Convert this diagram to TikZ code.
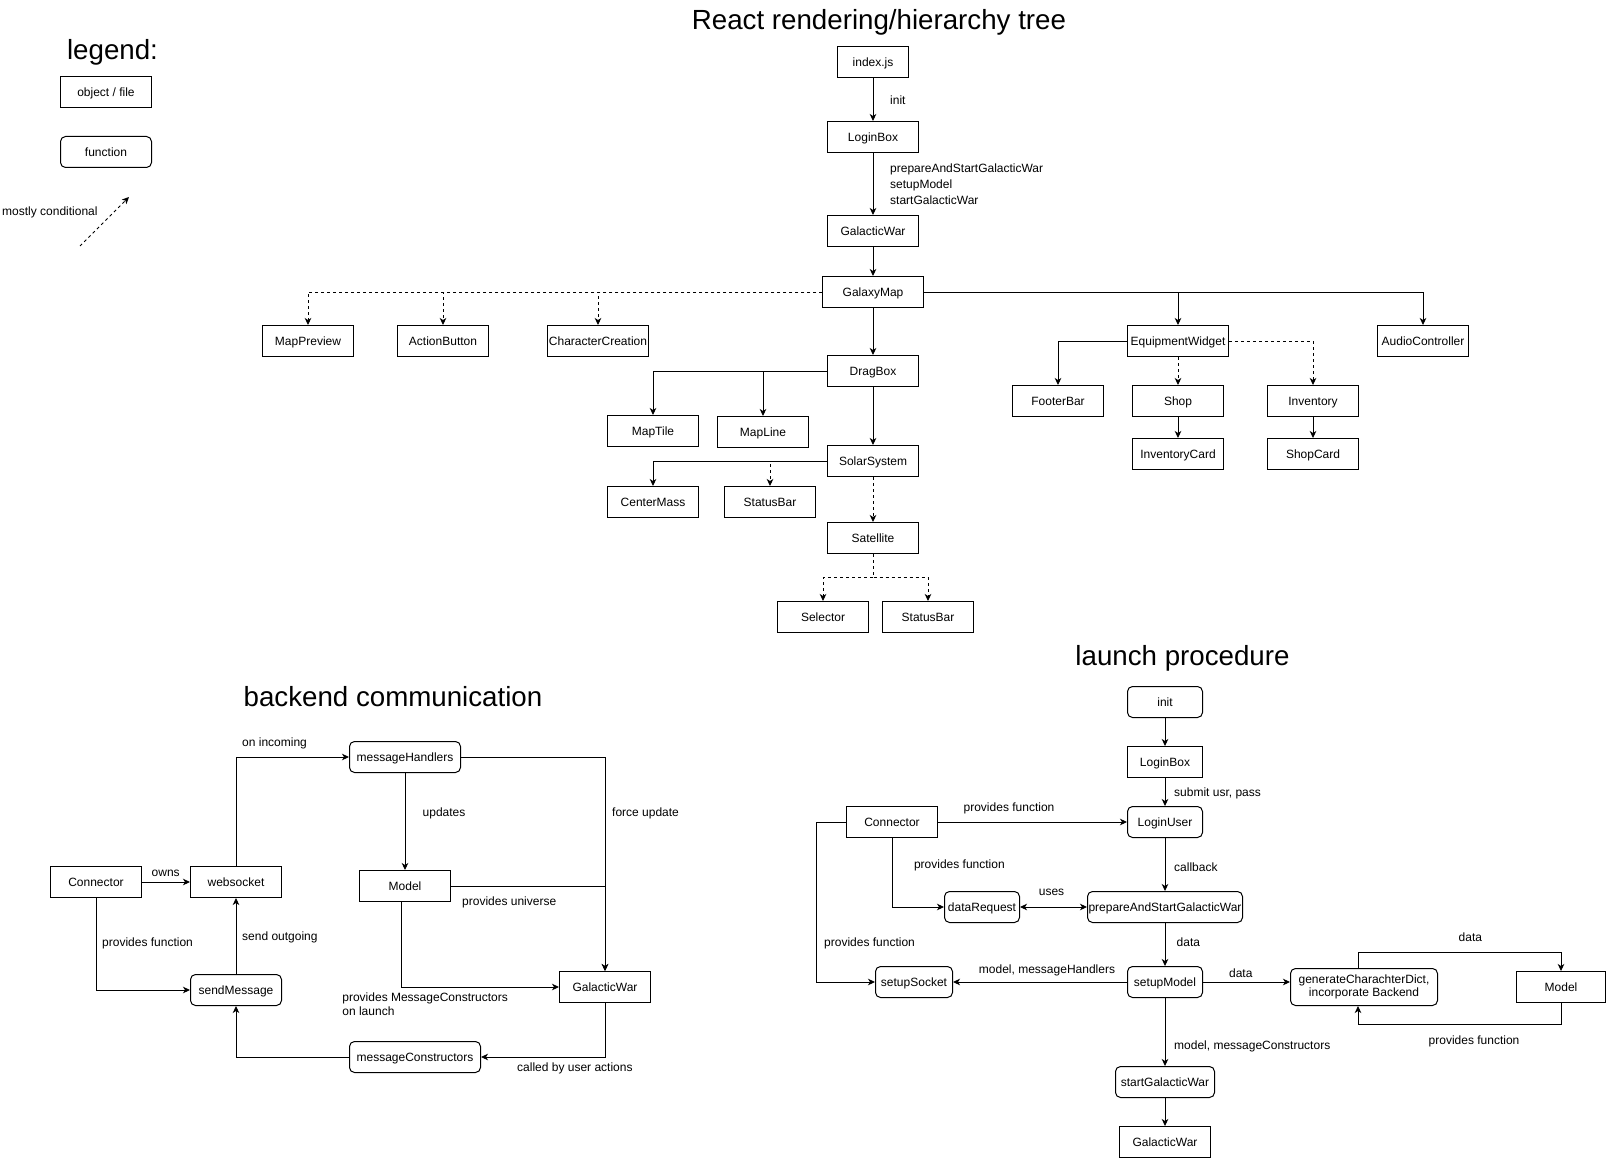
\documentclass[tikz,border=0pt]{standalone}
\usepackage{fontspec}
\setmainfont{Liberation Sans}
\usetikzlibrary{arrows.meta}
\newcommand{\fsnorm}{\fontsize{12}{14}\selectfont}
\newcommand{\fstitle}{\fontsize{27.7}{32}\selectfont}
\begin{document}
\begin{tikzpicture}[x=1pt,y=-1pt,
  obj/.style={draw, line width=1pt, inner sep=0pt, minimum width=#1, minimum height=31pt,
    font=\fsnorm, text height=8.6pt, text depth=0pt},
  obj/.default=91pt,
  fun/.style={obj=#1, rounded corners=5pt},
  fun/.default=91pt,
  funtwo/.style={draw, line width=1pt, inner sep=0pt, rounded corners=5pt, minimum width=#1,
    minimum height=37pt, align=center, font=\fontsize{12}{13.4}\selectfont},
  arr/.style={line width=0.9pt, -{Stealth[length=7pt,width=6.5pt,inset=2pt]}},
  both/.style={line width=0.9pt, {Stealth[length=7pt,width=6.5pt,inset=2pt]}-{Stealth[length=7pt,width=6.5pt,inset=2pt]}},
  cond/.style={arr, dash pattern=on 3pt off 3pt},
  lbl/.style={font=\fsnorm, inner sep=0pt, text height=8.6pt, text depth=0pt},
  lblmulti/.style={inner sep=0pt, anchor=west, align=left, font=\fontsize{12}{#1}\selectfont},
  title/.style={font=\fstitle, inner sep=0pt, anchor=base}]
\fill[white] (0,0) rectangle (1608,1158);
\useasboundingbox (0,0) rectangle (1608,1158);

% ---------------- legend ----------------
\node[title] (legTitle) at (112.5,59.5) {legend:};
\node[obj] (legObj) at (106,92) {object / file};
\node[fun] (legFun) at (106,152) {function};
\node[lbl, anchor=west] (legCondTxt) at (2,211.5) {mostly conditional};
\coordinate (legA) at (80,246);
\coordinate (legB) at (129,197);
\draw[cond] (legA) -- (legB);

% ---------------- React rendering / hierarchy tree ----------------
\node[title] (rTitle) at (879,29.5) {React rendering/hierarchy tree};
\node[obj=71pt] (rIndex) at (873,62) {index.js};
\node[obj] (rLogin) at (873,137) {LoginBox};
\node[obj] (rGW) at (873,231) {GalacticWar};
\node[obj=101pt] (rMap) at (873,292) {GalaxyMap};
\node[obj] (rPrev) at (308,341) {MapPreview};
\node[obj] (rAction) at (443,341) {ActionButton};
\node[obj=101pt] (rChar) at (598,341) {CharacterCreation};
\node[obj] (rDrag) at (873,371) {DragBox};
\node[obj] (rTile) at (653,431) {MapTile};
\node[obj] (rLine) at (763,432) {MapLine};
\node[obj] (rSolar) at (873,461) {SolarSystem};
\node[obj] (rCenter) at (653,502) {CenterMass};
\node[obj] (rStatusA) at (770,502) {StatusBar};
\node[obj] (rSat) at (873,538) {Satellite};
\node[obj] (rSel) at (823,617) {Selector};
\node[obj] (rStatusB) at (928,617) {StatusBar};
\node[obj=101pt] (rEquip) at (1178,341) {EquipmentWidget};
\node[obj] (rAudio) at (1423,341) {AudioController};
\node[obj] (rFooter) at (1058,401) {FooterBar};
\node[obj] (rShop) at (1178,401) {Shop};
\node[obj] (rInv) at (1313,401) {Inventory};
\node[obj] (rInvCard) at (1178,454) {InventoryCard};
\node[obj] (rShopCard) at (1313,454) {ShopCard};

\draw[arr] (rIndex) -- (rLogin);
\node[lbl, anchor=west] (rLblInit) at (890,100) {init};
\draw[arr] (rLogin) -- (rGW);
\node[lblmulti=16.2pt] (rLblCalls) at (890,184)
  {prepareAndStartGalacticWar\\setupModel\\startGalacticWar};
\draw[arr] (rGW) -- (rMap);
\draw[cond] (rMap.west) -| (rPrev.north);
\draw[cond] (rMap.west) -| (rAction.north);
\draw[cond] (rMap.west) -| (rChar.north);
\draw[arr] (rMap) -- (rDrag);
\draw[arr] (rMap.east) -| (rEquip.north);
\draw[arr] (rMap.east) -| (rAudio.north);
\draw[arr] (rDrag.west) -| (rTile.north);
\draw[arr] (rDrag.west) -| (rLine.north);
\draw[arr] (rDrag) -- (rSolar);
\draw[arr] (rSolar.west) -| (rCenter.north);
\draw[cond] (rSolar.west) -| (rStatusA.north);
\draw[cond] (rSolar) -- (rSat);
\draw[cond] (rSat.south) -- ++(0,23.5) -| (rSel.north);
\draw[cond] (rSat.south) -- ++(0,23.5) -| (rStatusB.north);
\draw[arr] (rEquip.west) -| (rFooter.north);
\draw[cond] (rEquip) -- (rShop);
\draw[cond] (rEquip.east) -| (rInv.north);
\draw[arr] (rShop) -- (rInvCard);
\draw[arr] (rInv) -- (rShopCard);

% ---------------- backend communication ----------------
\node[title] (bTitle) at (393,706) {backend communication};
\node[obj] (bConn) at (96,882) {Connector};
\node[obj] (bSock) at (236,882) {websocket};
\node[fun] (bSend) at (236,990) {sendMessage};
\node[fun=111pt] (bHand) at (405,757) {messageHandlers};
\node[obj] (bModel) at (405,886) {Model};
\node[obj] (bGW) at (605,987) {GalacticWar};
\node[fun=131pt] (bCons) at (415,1057) {messageConstructors};

\draw[arr] (bConn) -- (bSock);
\node[lbl] (bLblOwns) at (165.7,871.7) {owns};
\draw[arr] (bConn.south) |- (bSend.west);
\node[lbl, anchor=west] (bLblProv) at (102,941.7) {provides function};
\draw[arr] (bSend) -- (bSock);
\node[lbl, anchor=west] (bLblOut) at (242,936) {send outgoing};
\draw[arr] (bSock.north) |- (bHand.west);
\node[lbl, anchor=west] (bLblIn) at (242,742) {on incoming};
\draw[arr] (bHand) -- (bModel);
\node[lbl, anchor=west] (bLblUpd) at (422.5,812) {updates};
\draw[arr] (bHand.east) -| (bGW.north);
\node[lbl, anchor=west] (bLblForce) at (612,812) {force update};
\draw[arr] (bModel.east) -| (bGW.north);
\node[lbl, anchor=west] (bLblUni) at (462,900.7) {provides universe};
\draw[arr] ([xshift=-4pt]bModel.south) |- (bGW.west);
\node[lblmulti=14.3pt] (bLblMC) at (342.2,1004)
  {provides MessageConstructors\\on launch};
\draw[arr] (bGW.south) |- (bCons.east);
\node[lbl, anchor=west] (bLblUser) at (517,1066.7) {called by user actions};
\draw[arr] (bCons.west) -| (bSend.south);

% ---------------- launch procedure ----------------
\node[title] (lTitle) at (1182.5,665) {launch procedure};
\node[fun=75pt] (lInit) at (1165,702) {init};
\node[obj=75pt] (lLogin) at (1165,762) {LoginBox};
\node[fun=75pt] (lUser) at (1165,822) {LoginUser};
\node[obj] (lConn) at (892,822) {Connector};
\node[fun=155pt] (lPrep) at (1165,907) {prepareAndStartGalacticWar};
\node[fun=75pt] (lReq) at (982,907) {dataRequest};
\node[fun=77pt] (lSock) at (914,982) {setupSocket};
\node[fun=75pt] (lSetup) at (1165,982) {setupModel};
\node[funtwo=147pt] (lGen) at (1364,987)
  {generateCharachterDict,\\incorporate Backend};
\node[obj=89pt] (lModel) at (1561,987) {Model};
\node[fun=99pt] (lStart) at (1165,1082) {startGalacticWar};
\node[obj] (lGW) at (1165,1142) {GalacticWar};

\draw[arr] (lInit) -- (lLogin);
\draw[arr] (lLogin) -- (lUser);
\node[lbl, anchor=west] (lLblSubmit) at (1174,792) {submit usr, pass};
\draw[arr] (lConn) -- (lUser);
\node[lbl] (lLblProvA) at (1009,806.7) {provides function};
\draw[arr] (lUser) -- (lPrep);
\node[lbl, anchor=west] (lLblCb) at (1174,867) {callback};
\draw[arr] (lConn.south) |- (lReq.west);
\node[lbl, anchor=west] (lLblProvB) at (913.8,863.7) {provides function};
\draw[both] (lReq) -- (lPrep);
\node[lbl] (lLblUses) at (1051.5,891.3) {uses};
\draw[arr] (lConn.west) -- ++(-29.5,0) |- (lSock.west);
\node[lbl, anchor=west] (lLblProvC) at (824,941.7) {provides function};
\draw[arr] (lPrep) -- (lSetup);
\node[lbl, anchor=west] (lLblDataA) at (1176.5,942) {data};
\draw[arr] (lSetup) -- (lSock);
\node[lbl] (lLblMH) at (1047,969) {model, messageHandlers};
\draw[arr] (lSetup.east) -- (lSetup.east -| lGen.west);
\node[lbl] (lLblDataB) at (1240.8,972.7) {data};
\draw[arr] ([xshift=-6pt]lGen.north) -- ++(0,-15.5) -| (lModel.north);
\node[lbl] (lLblDataC) at (1470.4,936.7) {data};
\draw[arr] (lModel.south) -- ++(0,21.5) -| ([xshift=-6pt]lGen.south);
\node[lbl] (lLblProvD) at (1474,1040) {provides function};
\draw[arr] (lSetup) -- (lStart);
\node[lbl, anchor=west] (lLblMC) at (1174,1045) {model, messageConstructors};
\draw[arr] (lStart) -- (lGW);
\end{tikzpicture}
\end{document}
